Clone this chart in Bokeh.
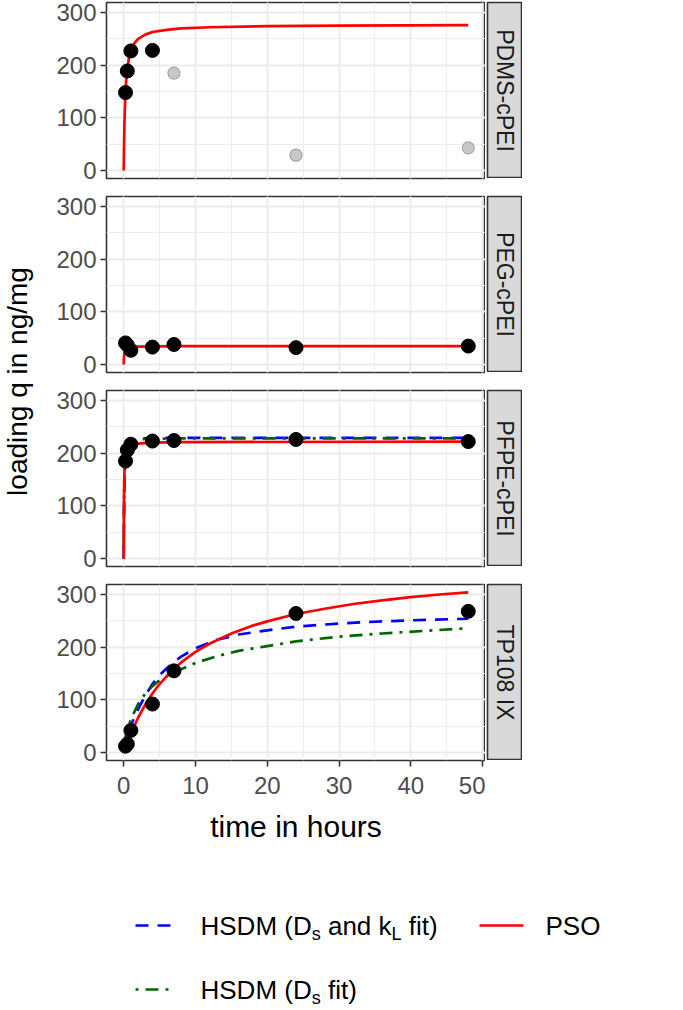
import math
from bokeh.plotting import figure
from bokeh.layouts import column, row
from bokeh.models import Range1d, SingleIntervalTicker, Grid
from bokeh.core.properties import value
from bokeh.embed import file_html
from bokeh.resources import INLINE

# ---------------- data ----------------
panel_names = ["PDMS-cPEI", "PEG-cPEI", "PFPE-cPEI", "TP108 IX"]

obs_t = [0.25, 0.5, 1, 4, 7, 24, 48]
pdms_q = [148, 189, 227, 228, 185, 29, 43]
pdms_used = [True, True, True, True, False, False, False]
peg_q = [41, 37, 27, 33, 38, 32, 35]
pfpe_q = [185, 206, 217, 223, 224, 226, 222]
tp108_q = [12, 16, 42, 92, 155, 264, 268]

# PSO model curves
pso_pdms_t = [0, 0.02, 0.05, 0.1, 0.15, 0.25, 0.35, 0.5, 0.75, 1, 1.5, 2, 3, 4, 6, 8, 12, 20, 30, 48]
pso_pdms_q = [0, 23, 52, 87, 113, 148, 171, 193, 215, 227, 242, 250, 258, 263, 267, 270, 272, 274, 275, 276]

pso_peg_t = [0, 0.02, 0.05, 0.1, 0.25, 0.5, 1, 2, 4, 8, 48]
pso_peg_q = [0, 9, 16, 22, 28, 31, 33, 34, 34.5, 35, 35]

pso_pfpe_t = [0, 0.02, 0.05, 0.1, 0.25, 0.5, 1, 2, 4, 8, 48]
pso_pfpe_q = [0, 81, 131, 165, 195, 208, 214.5, 218, 220, 221, 222]
hsdm1_pfpe_t = [0, 0.02, 0.05, 0.1, 0.25, 0.5, 1, 2, 4, 8, 48]
hsdm1_pfpe_q = [0, 45, 95, 145, 192, 213, 224, 228, 229, 229, 229]
hsdm2_pfpe_t = [0, 0.02, 0.05, 0.1, 0.25, 0.5, 1, 2, 4, 8, 48]
hsdm2_pfpe_q = [0, 55, 105, 150, 193, 211, 221, 226, 227.5, 228, 228]

pso_tp_t = [0, 0.25, 0.5, 1, 2, 3, 4, 5, 6, 7, 8, 10, 12, 15, 18, 20, 24, 28, 32, 36, 40, 44, 48]
pso_tp_q = [0, 10, 19, 36, 66, 91, 112, 130, 145, 159, 171, 191, 207, 226, 241, 249, 263, 273, 282, 289, 295, 300, 304]
hsdm1_tp_t = [0, 0.25, 0.5, 1, 2, 3, 4, 5, 6, 7, 8, 10, 13, 16, 20, 24, 30, 36, 42, 48]
hsdm1_tp_q = [0, 25, 36, 52, 82, 108, 130, 147, 160, 172, 182, 198, 214, 224, 232, 239, 245, 249, 252, 254]
hsdm2_tp_t = [0, 0.1, 0.25, 0.5, 1, 2, 3, 4, 5, 7, 10, 13, 16, 20, 24, 30, 36, 42, 48]
hsdm2_tp_q = [0, 18, 30, 44, 63, 92, 112, 126, 137, 152, 170, 183, 193, 202, 211, 220, 226, 231, 236]

legend_labels = ["HSDM (Ds and kL fit)", "HSDM (Ds fit)", "PSO"]

# ---------------- style / layout ----------------
FONT = "Liberation Sans"
RED, BLUE, GREEN = "#FF0000", "#0000FF", "#006400"
LW = 2.7
BLUE_DASH = "13 9"
GREEN_DASH = "3 7 13 7"
XMIN, XMAX = -2.4, 50.4
YMIN, YMAX = -15.2, 319.0
YT_W = 36          # width of y-title column
ML = 70            # left border of panels (tick labels)
FW, FH = 379, 176  # frame size
MT, MB = 2, 16     # top / bottom border for panels
MB_LAST = 95
SW = 35            # strip width
GAP = 2
TICK_FS = "24px"
TITLE_FS = "30px"
YTITLE_FS = "28px"
STRIP_FS = "23px"
GRID = "#EBEBEB"

panel_data = [
    dict(q=pdms_q, used=pdms_used, curves=[(pso_pdms_t, pso_pdms_q, RED, "solid")]),
    dict(q=peg_q, used=None, curves=[(pso_peg_t, pso_peg_q, RED, "solid")]),
    dict(q=pfpe_q, used=None, curves=[(hsdm1_pfpe_t, hsdm1_pfpe_q, BLUE, BLUE_DASH),
                                      (hsdm2_pfpe_t, hsdm2_pfpe_q, GREEN, GREEN_DASH),
                                      (pso_pfpe_t, pso_pfpe_q, RED, "solid")]),
    dict(q=tp108_q, used=None, curves=[(hsdm1_tp_t, hsdm1_tp_q, BLUE, BLUE_DASH),
                                       (hsdm2_tp_t, hsdm2_tp_q, GREEN, GREEN_DASH),
                                       (pso_tp_t, pso_tp_q, RED, "solid")]),
]


def make_panel(idx):
    last = idx == len(panel_names) - 1
    d = panel_data[idx]
    p = figure(frame_width=FW, frame_height=FH,
               x_range=Range1d(XMIN, XMAX), y_range=Range1d(YMIN, YMAX),
               output_backend="svg", toolbar_location=None,
               x_axis_location="below" if last else None,
               min_border_left=ML, min_border_right=0,
               min_border_top=MT, min_border_bottom=MB_LAST if last else MB)
    p.title.visible = False
    p.background_fill_color = "white"
    p.border_fill_color = "white"
    p.outline_line_color = "#333333"
    p.outline_line_width = 1.6

    xt = SingleIntervalTicker(interval=10, num_minor_ticks=2)
    yt = SingleIntervalTicker(interval=100, num_minor_ticks=2)
    if last:
        ax = p.xaxis[0]
        ax.ticker = xt
        ax.axis_line_color = None
        ax.major_tick_line_color = "#333333"
        ax.major_tick_line_width = 1.6
        ax.major_tick_out = 6
        ax.major_tick_in = 0
        ax.minor_tick_line_color = None
        ax.major_label_text_font = FONT
        ax.major_label_text_font_size = TICK_FS
        ax.major_label_text_color = "#4D4D4D"
        ax.major_label_standoff = 10
        ax.axis_label = "time in hours"
        ax.axis_label_text_font = FONT
        ax.axis_label_text_font_size = TITLE_FS
        ax.axis_label_text_font_style = "normal"
        ax.axis_label_text_color = "black"
        ax.axis_label_standoff = 13
        xg = p.xgrid[0]
        xg.ticker = xt
    else:
        xg = Grid(dimension=0, ticker=xt)
        p.add_layout(xg)
    xg.grid_line_color = GRID
    xg.grid_line_width = 1.8
    xg.minor_grid_line_color = GRID
    xg.minor_grid_line_width = 0.9

    ay = p.yaxis[0]
    ay.ticker = yt
    ay.axis_line_color = None
    ay.major_tick_line_color = "#333333"
    ay.major_tick_line_width = 1.6
    ay.major_tick_out = 6
    ay.major_tick_in = 0
    ay.minor_tick_line_color = None
    ay.major_label_text_font = FONT
    ay.major_label_text_font_size = TICK_FS
    ay.major_label_text_color = "#4D4D4D"
    ay.major_label_standoff = 4
    yg = p.ygrid[0]
    yg.ticker = yt
    yg.grid_line_color = GRID
    yg.grid_line_width = 1.8
    yg.minor_grid_line_color = GRID
    yg.minor_grid_line_width = 0.9

    for tt, qq, col, dash in d["curves"]:
        p.line(tt, qq, line_color=col, line_width=LW, line_dash=dash)

    used = d["used"]
    if used is None:
        used = [True] * len(obs_t)
    bt = [t for t, u in zip(obs_t, used) if u]
    bq = [q for q, u in zip(d["q"], used) if u]
    gt = [t for t, u in zip(obs_t, used) if not u]
    gq = [q for q, u in zip(d["q"], used) if not u]
    if gt:
        p.scatter(gt, gq, size=12, fill_color="#C8C8C8", line_color="#A6A6A6", line_width=1.2)
    p.scatter(bt, bq, size=14, fill_color="black", line_color="black")

    s = figure(frame_width=SW, frame_height=FH, x_range=Range1d(0, 1), y_range=Range1d(0, 1),
               output_backend="svg", toolbar_location=None,
               x_axis_location=None, y_axis_location=None,
               min_border_left=GAP, min_border_right=0, min_border_top=MT, min_border_bottom=0)
    s.title.visible = False
    s.grid.visible = False
    s.background_fill_color = "#D9D9D9"
    s.border_fill_color = "white"
    s.outline_line_color = "#333333"
    s.outline_line_width = 1.6
    s.text(x=[0.5], y=[0.5], text=[panel_names[idx]], angle=-math.pi / 2,
           text_align="center", text_baseline="middle",
           text_font=value(FONT), text_font_size=STRIP_FS, text_color="#1A1A1A")
    return row(p, s, spacing=0)


panel_rows = [make_panel(i) for i in range(len(panel_names))]
panels_col = column(*panel_rows, spacing=0)

# y-axis title
YT_H = MT + 4 * FH + 3 * (MB + MT) + MT
yfig = figure(frame_width=YT_W, frame_height=YT_H, x_range=Range1d(0, YT_W), y_range=Range1d(0, YT_H),
              output_backend="svg", toolbar_location=None,
              x_axis_location=None, y_axis_location=None,
              min_border_left=0, min_border_right=0, min_border_top=0, min_border_bottom=0)
yfig.title.visible = False
yfig.grid.visible = False
yfig.outline_line_color = None
yfig.text(x=[17], y=[YT_H / 2], text=["loading q in ng/mg"], angle=math.pi / 2,
          text_align="center", text_baseline="middle",
          text_font=value(FONT), text_font_size=YTITLE_FS, text_color="black")

# legend (manual, to allow subscripts)
PANELS_H = 3 * (MT + FH + MB) + MT + FH + MB_LAST
LEG_W, LEG_H = 683, 1010 - PANELS_H
leg = figure(frame_width=LEG_W, frame_height=LEG_H, x_range=Range1d(0, LEG_W), y_range=Range1d(LEG_H, 0),
             output_backend="svg", toolbar_location=None,
             x_axis_location=None, y_axis_location=None,
             min_border_left=0, min_border_right=0, min_border_top=0, min_border_bottom=0)
leg.title.visible = False
leg.grid.visible = False
leg.outline_line_color = None

AW = {'H': 722, 'S': 667, 'D': 722, 'M': 833, ' ': 278, '(': 333, ')': 333, 'a': 556, 'n': 556,
      'd': 556, 'k': 500, 'f': 278, 'i': 222, 't': 278, 's': 500, 'L': 556, 'P': 667, 'O': 778}


def tw(txt, fs):
    return sum(AW.get(c, 556) for c in txt) * fs / 1000.0


LEG_FS = 26
SUB_FS = 18
ROW_Y = [925 - PANELS_H, 989 - PANELS_H]
KEY_X = [(135, 172), (479, 523)]
TXT_X = [200, 545]

label_parts = [
    [("HSDM (D", False), ("s", True), (" and k", False), ("L", True), (" fit)", False)],
    [("HSDM (D", False), ("s", True), (" fit)", False)],
    [("PSO", False)],
]
item_pos = [(0, 0), (0, 1), (1, 0)]  # (column, row)
item_style = [(BLUE, BLUE_DASH), (GREEN, GREEN_DASH), (RED, "solid")]

for parts, (ci, ri), (col, dash) in zip(label_parts, item_pos, item_style):
    yy = ROW_Y[ri]
    x0, x1 = KEY_X[ci]
    leg.line([x0, x1], [yy, yy], line_color=col, line_width=LW, line_dash=dash)
    x = TXT_X[ci]
    for txt, sub in parts:
        fs = SUB_FS if sub else LEG_FS
        stripped = txt.lstrip(" ")
        x += tw(txt[:len(txt) - len(stripped)], fs)
        leg.text(x=[x], y=[yy + (8 if sub else 0)], text=[stripped], text_align="left",
                 text_baseline="middle", text_font=value(FONT),
                 text_font_size=f"{fs}px", text_color="black")
        x += tw(stripped, fs)

layout = column(row(yfig, panels_col, spacing=0), leg, spacing=0)

open("out.html", "w").write(file_html(layout, INLINE))
